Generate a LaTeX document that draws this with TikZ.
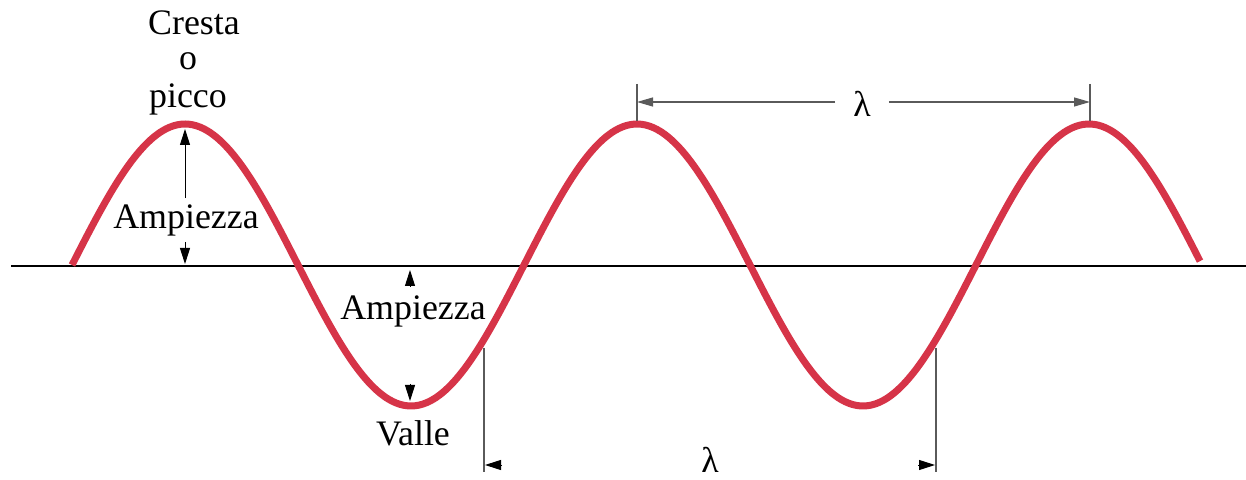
\documentclass[tikz,border=0pt]{standalone}
\usepackage{fontspec}
\setmainfont{Liberation Serif}
\usetikzlibrary{arrows.meta}
\definecolor{wavered}{RGB}{214,52,72}
\definecolor{dimgray}{RGB}{90,90,90}
\begin{document}
\begin{tikzpicture}[x=1bp,y=-1bp,
  lbl/.style={inner sep=0pt,font=\fontsize{36}{38}\selectfont},
  dimline/.style={draw=dimgray,line width=1.2bp},
  tip/.style={-{Triangle[length=16bp,width=10bp]},black,line width=1bp},
  wave/.style={draw=wavered,line width=7bp}]
\useasboundingbox (0,0) rectangle (1246,480);
% axis
\draw[line width=2bp] (11,266) -- (1246,266);
% wave
\draw[wave,line cap=butt] plot[domain=0:2.5,samples=300,smooth] ({72+452*\x},{265-141*sin(360*\x)});
% labels
\node[lbl] (cresta) at (194,23) {Cresta};
\node[lbl] (o) at (188,61) {o};
\node[lbl] (picco) at (188,99) {picco};
\node[lbl] (amp1) at (186,220) {Ampiezza};
\node[lbl] (amp2) at (413,311) {Ampiezza};
\node[lbl] (valle) at (413,433) {Valle};
\node[lbl] (lamtop) at (862,104) {λ};
\node[lbl] (lambot) at (710,460) {λ};
% coordinates
\coordinate (peak1) at (185,129);
\coordinate (ax1) at (185,264);
\coordinate (ax2) at (410,270);
\coordinate (ax2b) at (410,287);
\coordinate (tr2) at (410,401);
\coordinate (tr2b) at (410,384);
\coordinate (t1) at (637,84); \coordinate (t1b) at (637,121);
\coordinate (t2) at (1090,84); \coordinate (t2b) at (1090,121);
\coordinate (b1) at (484,348); \coordinate (b1b) at (484,472);
\coordinate (b2) at (936,348); \coordinate (b2b) at (936,472);
% amplitude arrows
\draw[tip] (amp1.north -| peak1) ++(0,-6) -- (peak1);
\draw[tip] (amp1.south -| ax1) ++(0,6) -- (ax1);
\draw[tip] (ax2b) -- (ax2);
\draw[tip] (tr2b) -- (tr2);
% top lambda
\draw[dimline] (t1) -- (t1b);
\draw[dimline] (t2) -- (t2b);
\draw[dimline,-{Triangle[length=16bp,width=9bp]}] (lamtop.west) ++(-18,-2) -- (637,102);
\draw[dimline,-{Triangle[length=16bp,width=9bp]}] (lamtop.east) ++(18,-2) -- (1090,102);
% bottom lambda
\draw[dimline] (b1) -- (b1b);
\draw[dimline] (b2) -- (b2b);
\draw[tip] (502,465) -- (485,465);
\draw[tip] (918,465) -- (935,465);
\end{tikzpicture}
\end{document}
